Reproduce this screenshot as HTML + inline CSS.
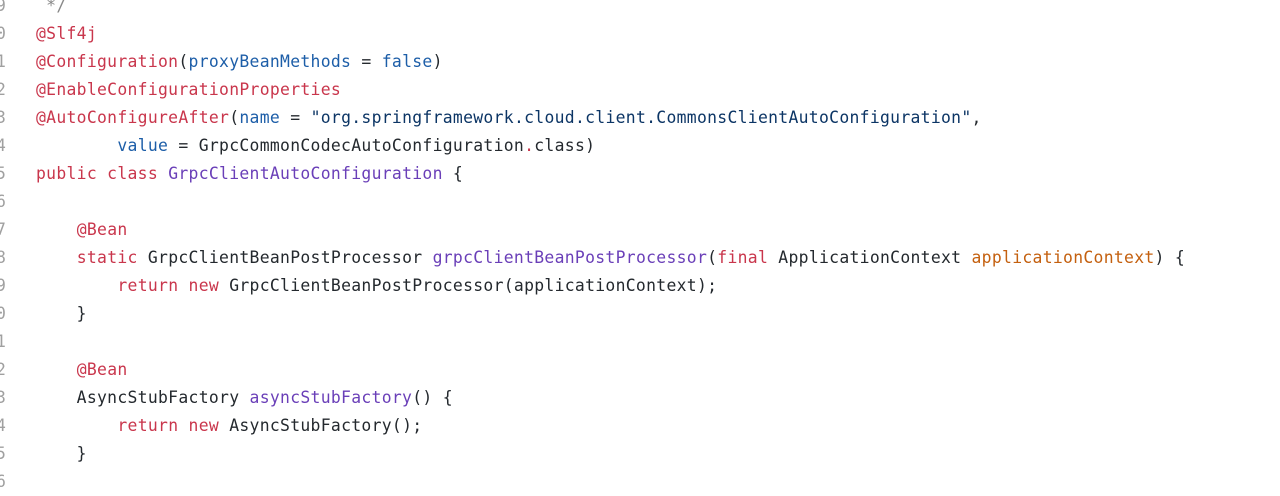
<!DOCTYPE html>
<html><head><meta charset="utf-8"><style>
html,body{margin:0;padding:0;background:#fff;width:1280px;height:477px;overflow:hidden}
.l{position:absolute;left:36px;height:28px;line-height:28px;font-family:"DejaVu Sans Mono","Liberation Mono",monospace;font-size:16.4px;color:#24292e;white-space:pre;letter-spacing:0.3px}
.n{position:absolute;left:-4px;height:28px;line-height:28px;font-family:"DejaVu Sans Mono","Liberation Mono",monospace;font-size:16.4px;color:#a0a0a0}
.r{color:#c9364c}.b{color:#1d5ea8}.s{color:#0c3565}.p{color:#6a3fb8}.o{color:#c4600f}.g{color:#888}
</style></head><body>
<div class="n" style="top:-8px">9</div>
<div class="n" style="top:20px">0</div>
<div class="n" style="top:48px">1</div>
<div class="n" style="top:76px">2</div>
<div class="n" style="top:104px">3</div>
<div class="n" style="top:132px">4</div>
<div class="n" style="top:160px">5</div>
<div class="n" style="top:188px">6</div>
<div class="n" style="top:216px">7</div>
<div class="n" style="top:244px">8</div>
<div class="n" style="top:272px">9</div>
<div class="n" style="top:300px">0</div>
<div class="n" style="top:328px">1</div>
<div class="n" style="top:356px">2</div>
<div class="n" style="top:384px">3</div>
<div class="n" style="top:412px">4</div>
<div class="n" style="top:440px">5</div>
<div class="n" style="top:468px">6</div>

<div class="l g" style="top:-8px"> */</div>
<div class="l" style="top:20px"><span class="r">@Slf4j</span></div>
<div class="l" style="top:48px"><span class="r">@Configuration</span>(<span class="b">proxyBeanMethods</span> = <span class="b">false</span>)</div>
<div class="l" style="top:76px"><span class="r">@EnableConfigurationProperties</span></div>
<div class="l" style="top:104px"><span class="r">@AutoConfigureAfter</span>(<span class="b">name</span> = <span class="s">"org.springframework.cloud.client.CommonsClientAutoConfiguration"</span>,</div>
<div class="l" style="top:132px">        <span class="b">value</span> = GrpcCommonCodecAutoConfiguration<span class="r">.</span>class)</div>
<div class="l" style="top:160px"><span class="r">public class</span> <span class="p">GrpcClientAutoConfiguration</span> {</div>
<div class="l" style="top:216px">    <span class="r">@Bean</span></div>
<div class="l" style="top:244px">    <span class="r">static</span> GrpcClientBeanPostProcessor <span class="p">grpcClientBeanPostProcessor</span>(<span class="r">final</span> ApplicationContext <span class="o">applicationContext</span>) {</div>
<div class="l" style="top:272px">        <span class="r">return new</span> GrpcClientBeanPostProcessor(applicationContext);</div>
<div class="l" style="top:300px">    }</div>
<div class="l" style="top:356px">    <span class="r">@Bean</span></div>
<div class="l" style="top:384px">    AsyncStubFactory <span class="p">asyncStubFactory</span>() {</div>
<div class="l" style="top:412px">        <span class="r">return new</span> AsyncStubFactory();</div>
<div class="l" style="top:440px">    }</div>
</body></html>
